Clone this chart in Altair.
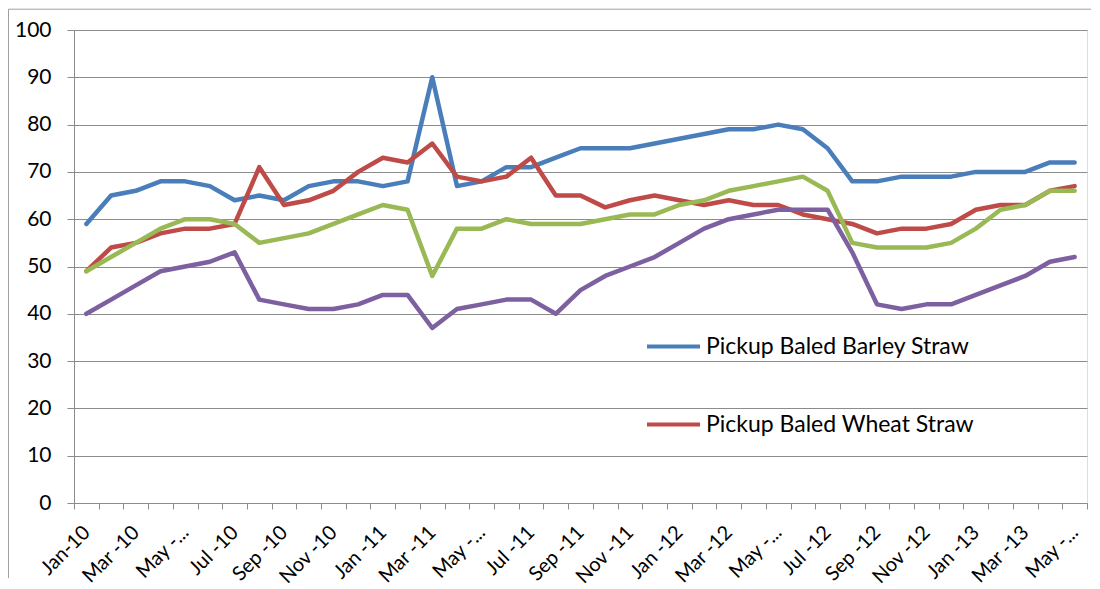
import altair as alt
import pandas as pd

months = ["Jan-10","Feb-10","Mar-10","Apr-10","May-10","Jun-10","Jul-10","Aug-10","Sep-10","Oct-10","Nov-10","Dec-10",
          "Jan-11","Feb-11","Mar-11","Apr-11","May-11","Jun-11","Jul-11","Aug-11","Sep-11","Oct-11","Nov-11","Dec-11",
          "Jan-12","Feb-12","Mar-12","Apr-12","May-12","Jun-12","Jul-12","Aug-12","Sep-12","Oct-12","Nov-12","Dec-12",
          "Jan-13","Feb-13","Mar-13","Apr-13","May-13"]

tick_labels = ["Jan-10","Mar -10","May -...","Jul -10","Sep -10","Nov -10","Jan -11","Mar -11","May -...","Jul -11",
               "Sep -11","Nov -11","Jan -12","Mar -12","May -...","Jul -12","Sep -12","Nov -12","Jan -13","Mar -13","May -..."]

barley = [59,65,66,68,68,67,64,65,64,67,68,68,67,68,90,67,68,71,71,73,75,75,75,76,77,78,79,79,80,79,75,68,68,69,69,69,70,70,70,72,72]
wheat  = [49,54,55,57,58,58,59,71,63,64,66,70,73,72,76,69,68,69,73,65,65,62.5,64,65,64,63,64,63,63,61,60,59,57,58,58,59,62,63,63,66,67]
third  = [49,52,55,58,60,60,59,55,56,57,59,61,63,62,48,58,58,60,59,59,59,60,61,61,63,64,66,67,68,69,66,55,54,54,54,55,58,62,63,66,66]
fourth = [40,43,46,49,50,51,53,43,42,41,41,42,44,44,37,41,42,43,43,40,45,48,50,52,55,58,60,61,62,62,62,53,42,41,42,42,44,46,48,51,52]

series_names = ["Pickup Baled Barley Straw", "Pickup Baled Wheat Straw", "Series 3", "Series 4"]
series_colors = ["#4A7EBB", "#BE4B48", "#98B954", "#7D60A0"]
series_values = [barley, wheat, third, fourth]

rows = []
for name, vals in zip(series_names, series_values):
    for m, v in zip(months, vals):
        rows.append({"month": m, "value": v, "series": name})
df = pd.DataFrame(rows)

keys = months[::2]
keys_js = "[" + ",".join("'%s'" % k for k in keys) + "]"
labs_js = "[" + ",".join("'%s'" % l for l in tick_labels) + "]"
label_expr = f"indexof({keys_js}, datum.value) >= 0 ? {labs_js}[indexof({keys_js}, datum.value)] : ''"

FONT = "Lato"
GRID = "#8C8C8C"

lines = alt.Chart(df).mark_line(strokeWidth=4.5, strokeJoin="round", strokeCap="round").encode(
    x=alt.X("month:O", sort=months, bandPosition=0.5,
            scale=alt.Scale(type="band", paddingInner=0, paddingOuter=0),
            axis=alt.Axis(title=None, labelExpr=label_expr, labelAngle=-45, labelAlign="right",
                          labelBaseline="middle", labelFontSize=20, labelFont=FONT, labelColor="#000000",
                          labelPadding=20, labelOffset=0, tickBand="extent", tickSize=6, tickColor=GRID,
                          domainColor=GRID, grid=False, labelOverlap=False, labelBound=False, labelFlush=False)),
    y=alt.Y("value:Q", scale=alt.Scale(domain=[0, 100], nice=False),
            axis=alt.Axis(title=None, values=list(range(0, 101, 10)), tickSize=7, tickColor=GRID,
                          domainColor=GRID, gridColor=GRID, gridWidth=1, labelFontSize=21, labelFont=FONT,
                          labelColor="#000000", labelPadding=16)),
    color=alt.Color("series:N", sort=series_names,
                    scale=alt.Scale(domain=series_names, range=series_colors),
                    legend=alt.Legend(title=None, values=series_names[:2], orient="none",
                                      legendX=571, legendY=288, symbolType="stroke", symbolSize=2809,
                                      symbolStrokeWidth=4, labelFontSize=23, labelFont=FONT,
                                      labelColor="#000000", labelOffset=4, rowPadding=37, padding=0,
                                      labelLimit=400)),
    order=alt.Order("series_order:Q"),
).transform_calculate(
    series_order=f"indexof({['%s' % s for s in series_names]}, datum.series)"
)

frame_df = pd.DataFrame({"k": [0]})
frame_left = alt.Chart(frame_df).mark_rule(color="#A0A0A0", strokeWidth=1).encode(
    x=alt.value(-65.5), y=alt.value(-20.8), y2=alt.value(548))
frame_top = alt.Chart(frame_df).mark_rule(color="#A0A0A0", strokeWidth=1).encode(
    x=alt.value(-65.5), x2=alt.value(1017), y=alt.value(-20.8))

chart = alt.layer(frame_left, frame_top, lines).properties(
    width=1013, height=473, padding=0
).configure_view(stroke=None).configure(background="white")

chart.save("out.html", embed_options={"renderer": "svg", "actions": False})
